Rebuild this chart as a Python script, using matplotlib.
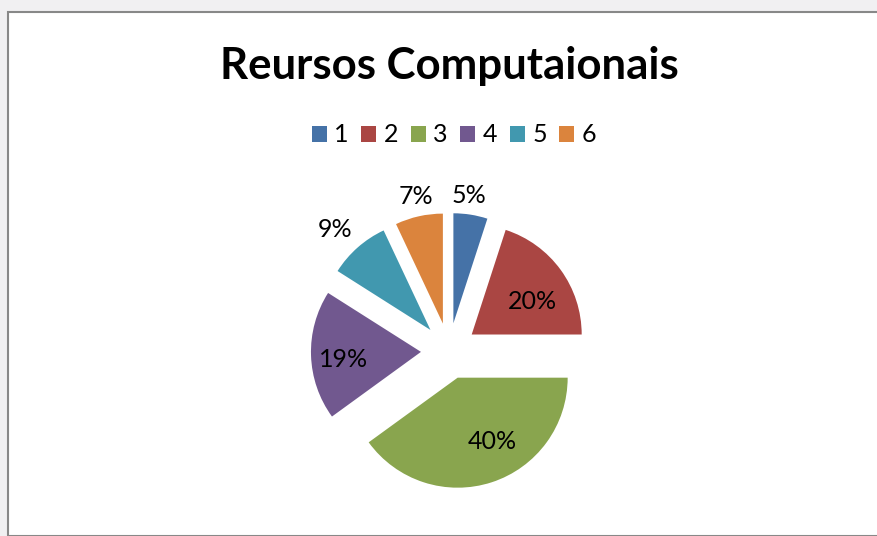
import numpy as np
import matplotlib
matplotlib.use("Agg")
from matplotlib import pyplot as plt
from matplotlib.patches import Rectangle

plt.rcParams['font.family'] = ['Lato', 'DejaVu Sans']

# dados do grafico
titulo = "Reursos Computaionais"
categorias = ["1", "2", "3", "4", "5", "6"]
valores = [5, 20, 40, 19, 9, 7]
cores = ["#4572A7", "#AA4643", "#89A54E", "#71588F", "#4198AF", "#DB843D"]

# posicao dos rotulos: distancia (em raios) e desvio angular (graus, sentido horario)
dist_rotulo = [1.44, 0.89, 0.90, 0.965, 1.525, 1.45]
desvio_rotulo = [-1.8, 4.8, -8.0, -2.0, -1.4, 0.7]

W, H = 878, 536
fig = plt.figure(figsize=(W / 100, H / 100), dpi=100, facecolor="#f1f0f2")

# area do grafico com borda
fig.patches.append(Rectangle((8 / W, 0), 1, 1 - 11.5 / H, transform=fig.transFigure,
                             facecolor="white", edgecolor="#888888", lw=1.5, zorder=-10))

# pizza
cx, cy, r = 449, 351, 110
s = 1.6 * r
ax = fig.add_axes([(cx - s) / W, (H - cy - s) / H, 2 * s / W, 2 * s / H])
ax.set_zorder(5)
ax.axis("off")

wedges, _ = ax.pie(valores, colors=cores, startangle=90, counterclock=False,
                   explode=[0.255] * len(valores), radius=1)
ax.set_xlim(-1.6, 1.6)
ax.set_ylim(-1.6, 1.6)

total = sum(valores)
for w, v, d, dv in zip(wedges, valores, dist_rotulo, desvio_rotulo):
    ang = np.deg2rad((w.theta1 + w.theta2) / 2 - dv)
    ax.text(d * np.cos(ang), d * np.sin(ang) - 0.012, f"{v / total * 100:.0f}%",
            ha="center", va="center", fontsize=18, color="black")

# titulo
fig.text(cx / W, 1 - 66 / H, titulo, ha="center", va="center",
         fontsize=31.5, fontweight="bold", color="black")

# legenda
leg = fig.legend(wedges, categorias, loc="center", bbox_to_anchor=(454 / W, 1 - 135 / H),
                 ncol=6, frameon=False, fontsize=18, handlelength=0.6, handleheight=0.6,
                 handletextpad=0.3, columnspacing=0.5, borderpad=0)

fig.savefig("out.png", dpi=100, facecolor=fig.get_facecolor())
